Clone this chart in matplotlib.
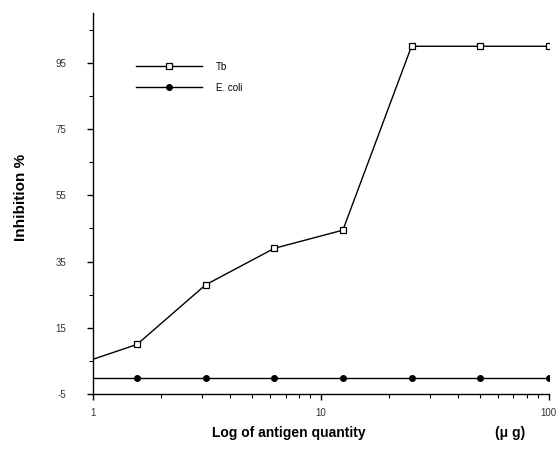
import numpy as np
import matplotlib.pyplot as plt
from matplotlib.ticker import FixedLocator, NullFormatter

plt.rcParams['font.family'] = ['Liberation Sans', 'DejaVu Sans']
plt.rcParams['axes.unicode_minus'] = False

# antigen quantity (ug), doubling series
quantity = [1, 1.5625, 3.125, 6.25, 12.5, 25, 50, 100]
tb = [5.5, 10, 28, 39, 44.5, 100, 100, 100]
ecoli = [0, 0, 0, 0, 0, 0, 0, 0]

y_major = [-5, 15, 35, 55, 75, 95]
y_minor = [5, 25, 45, 65, 85, 105]

fig = plt.figure(figsize=(5.56, 4.53), dpi=100)
ax = fig.add_axes([0.167, 0.130, 0.820, 0.841])

ax.plot(quantity, tb, color='k', lw=1.0, marker='s', ms=5, mfc='white',
        mec='k', mew=0.9, markevery=list(range(1, len(quantity))), label='Tb')
ax.plot(quantity, ecoli, color='k', lw=1.0, marker='o', ms=4,
        markevery=list(range(1, len(quantity))), label='E. coli')

ax.set_xscale('log')
ax.set_xlim(1, 100)
ax.set_ylim(-5, 110)
ax.set_yticks(y_major)
ax.yaxis.set_minor_locator(FixedLocator(y_minor))
ax.set_xticks([1, 10, 100])
ax.set_xticklabels(['1', '10', '100'])
ax.xaxis.set_minor_formatter(NullFormatter())

for s in ['top', 'right']:
    ax.spines[s].set_visible(False)
ax.spines['left'].set_linewidth(1.0)
ax.spines['bottom'].set_linewidth(1.0)

ax.tick_params(axis='both', which='major', labelsize=7, length=4, width=1,
               labelcolor='#333333')
ax.tick_params(axis='both', which='minor', length=3, width=0.8)
ax.tick_params(axis='x', pad=6)
ax.tick_params(axis='y', pad=15)

fig.text(0.037, 0.565, 'Inhibition %', fontsize=11, fontweight='bold',
         rotation=90, ha='center', va='center')
fig.text(0.52, 0.035, 'Log of antigen quantity', fontsize=10,
         fontweight='bold', ha='center')
fig.text(0.918, 0.035, '(\u03bc g)', fontsize=10, fontweight='bold',
         ha='center')

leg = ax.legend(loc='upper left', bbox_to_anchor=(0.075, 0.895), frameon=False,
                fontsize=7, handlelength=6.8, handletextpad=1.4,
                labelspacing=1.1)

fig.savefig('out.png', dpi=100)
